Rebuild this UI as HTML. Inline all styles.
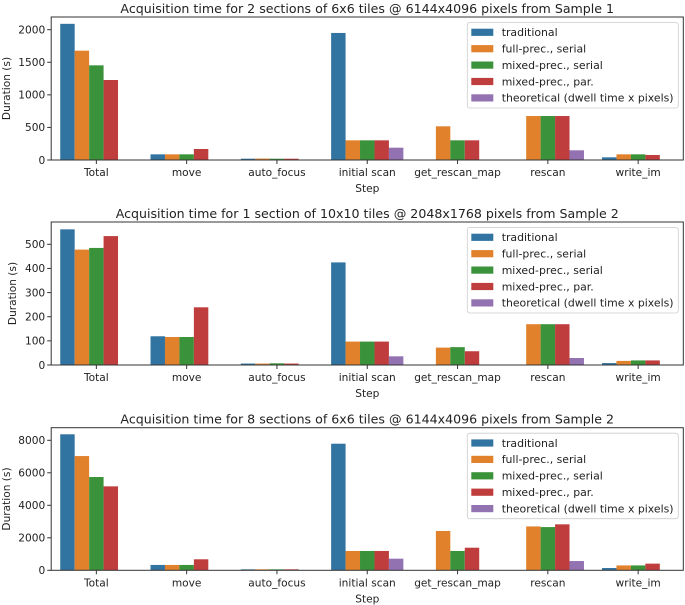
<!DOCTYPE html>
<html><head><meta charset="utf-8"><style>
body{margin:0;background:#fff}
svg{display:block;font-family:"DejaVu Sans","Liberation Sans",sans-serif}
</style></head><body>
<svg id="chart" width="685" height="605" viewBox="0 0 685 605" xmlns="http://www.w3.org/2000/svg"></svg>
<script>
const categories = ["Total","move","auto_focus","initial scan","get_rescan_map","rescan","write_im"];
const seriesNames = ["traditional","full-prec., serial","mixed-prec., serial","mixed-prec., par.","theoretical (dwell time x pixels)"];
const colors = ["#3274a1","#e1812c","#3a923a","#c03d3e","#9372b2"];
const titles = [
 "Acquisition time for 2 sections of 6x6 tiles @ 6144x4096 pixels from Sample 1",
 "Acquisition time for 1 section of 10x10 tiles @ 2048x1768 pixels from Sample 2",
 "Acquisition time for 8 sections of 6x6 tiles @ 6144x4096 pixels from Sample 2"];
const p1Traditional = [2090,87,20,1950,null,null,41];
const p1FullSerial  = [1678,87,22,302,517,675,87];
const p1MixedSerial = [1453,87,20,302,302,675,87];
const p1MixedPar    = [1228,169,20,302,302,675,77];
const p1Theoretical = [null,null,null,189,null,149,null];
const p2Traditional = [562,119,6,425,null,null,8];
const p2FullSerial  = [478,116,6,97,72,169,17];
const p2MixedSerial = [485,116,7,97,74,169,19];
const p2MixedPar    = [534,239,6,97,57,169,19];
const p2Theoretical = [null,null,null,36,null,29,null];
const p3Traditional = [8370,330,60,7790,null,null,140];
const p3FullSerial  = [7030,330,60,1190,2420,2700,300];
const p3MixedSerial = [5740,330,60,1190,1190,2660,300];
const p3MixedPar    = [5166,677,60,1190,1390,2830,410];
const p3Theoretical = [null,null,null,715,null,570,null];
const yTicks1 = [0,500,1000,1500,2000];
const yTicks2 = [0,100,200,300,400,500];
const yTicks3 = [0,2000,4000,6000,8000];

const plots = [
 {data:[p1Traditional,p1FullSerial,p1MixedSerial,p1MixedPar,p1Theoretical],ticks:yTicks1,top:17,bottom:160,ref:2000,refY:29.7,ylx:10},
 {data:[p2Traditional,p2FullSerial,p2MixedSerial,p2MixedPar,p2Theoretical],ticks:yTicks2,top:222,bottom:365,ref:500,refY:244.3,ylx:16},
 {data:[p3Traditional,p3FullSerial,p3MixedSerial,p3MixedPar,p3Theoretical],ticks:yTicks3,top:427.7,bottom:570.3,ref:8000,refY:440.3,ylx:10}
];
const NS="http://www.w3.org/2000/svg";
const svg=document.getElementById('chart');
function mk(tag,attrs,parent){const e=document.createElementNS(NS,tag);for(const k in attrs)e.setAttribute(k,attrs[k]);(parent||svg).appendChild(e);return e;}
const L=51.2, R=683.3, step=(R-L)/categories.length;
function xCenter(i){return L+step*(i+0.5);}
plots.forEach((p,pi)=>{
  const g=mk('g',{});
  
  
  const y=v=>p.bottom-(v/p.ref)*(p.bottom-p.refY);
  const t=mk('text',{x:(L+R)/2,y:p.top-4,'text-anchor':'middle','font-size':'12.6',fill:'#222'},g);
  t.textContent=titles[pi];
  
  
  const bw=step*0.16;
  p.data.forEach((ser,si)=>{
    ser.forEach((v,ci)=>{
      if(v==null)return;
      const x0=xCenter(ci)-step*0.4+si*bw;
      const r=mk('rect',{x:x0,y:y(v),width:bw,height:p.bottom-y(v),fill:colors[si]},g);
      
      
    });
  });
  mk('rect',{x:L,y:p.top,width:R-L,height:p.bottom-p.top,fill:'none',stroke:'#333','stroke-width':1},g);
  p.ticks.forEach(tv=>{
    const ty=y(tv);
    mk('line',{x1:L-4,x2:L,y1:ty,y2:ty,stroke:'#333'},g);
    const tl=mk('text',{x:L-6,y:ty+3.8,'text-anchor':'end','font-size':'10.6',fill:'#222'},g);
    tl.textContent=tv;
    
    
  });
  categories.forEach((c,ci)=>{
    const cx=xCenter(ci);
    mk('line',{x1:cx,x2:cx,y1:p.bottom,y2:p.bottom+4,stroke:'#333'},g);
    const tl=mk('text',{x:cx,y:p.bottom+16,'text-anchor':'middle','font-size':'10.6',fill:'#222'},g);
    tl.textContent=c;
    
    
  });
  const xl=mk('text',{x:367.3,y:p.bottom+32,'text-anchor':'middle','font-size':'10.6',fill:'#222'},g);
  xl.textContent='Step';
  
  
  const ym=(p.top+p.bottom)/2;
  const yl=mk('text',{x:p.ylx,y:ym,'text-anchor':'middle','font-size':'10.6',fill:'#222',transform:`rotate(-90 ${p.ylx} ${ym})`},g);
  yl.textContent='Duration (s)';
  
  
  const lg=mk('g',{},g);
  
  
  const lt=p.top+5.5;
  mk('rect',{x:467.3,y:lt,width:211,height:85.5,rx:2.5,fill:'#fff','fill-opacity':0.85,stroke:'#ccc','stroke-width':0.8},lg);
  seriesNames.forEach((n,si)=>{
    const cy=lt+9.7+si*16.4;
    const sw=mk('rect',{x:471.3,y:cy-3.5,width:22,height:7.2,fill:colors[si]},lg);
    
    
    const tx=mk('text',{x:501.7,y:cy+3.9,'font-size':'10.9',fill:'#222'},lg);
    tx.textContent=n;
    
    
  });
});
</script>
</body></html>
